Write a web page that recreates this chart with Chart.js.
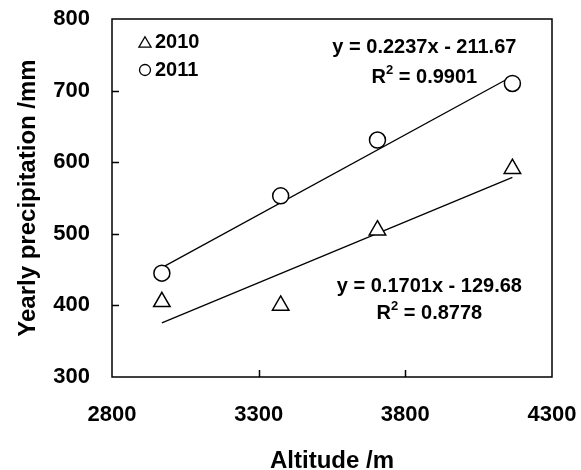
<!DOCTYPE html>
<html>
<head>
<meta charset="utf-8">
<script src="https://cdn.jsdelivr.net/npm/chart.js@4.4.0/dist/chart.umd.min.js"></script>
<style>
  html, body { margin: 0; padding: 0; background: #fff; }
  #wrap { width: 581px; height: 470px; }
</style>
</head>
<body>
<div id="wrap"><canvas id="chart"></canvas></div>
<script>
  // data
  const altitude = [2970, 3375, 3705, 4165];
  const precip2010 = [405, 400, 505, 591];
  const precip2011 = [445, 553, 631, 710];
  const years = ['2010', '2011'];

  // linear fits printed on the figure
  const fitSlope = [0.1701, 0.2237];
  const fitIntercept = [-129.68, -211.67];
  const fitR2 = ['0.8778', '0.9901'];

  const xTicks = [2800, 3300, 3800, 4300];
  const yTicks = [300, 400, 500, 600, 700, 800];

  const FONT = '"Liberation Sans", Arial, sans-serif';

  function fitLine(i) {
    const first = altitude[0], last = altitude[altitude.length - 1];
    return [first, last].map(a => ({ x: a, y: fitSlope[i] * a + fitIntercept[i] }));
  }

  function noPadding(s) {
    s.paddingTop = 0;
    s.paddingBottom = 0;
    s.paddingLeft = 0;
    s.paddingRight = 0;
  }

  // frame, inward ticks, legend and equations
  const framePlugin = {
    id: 'frame',
    afterDraw(chart) {
      const { ctx, chartArea: a, scales: { x, y } } = chart;
      ctx.save();
      ctx.strokeStyle = '#000';
      ctx.lineWidth = 1.5;
      ctx.strokeRect(a.left, a.top, a.right - a.left, a.bottom - a.top);

      ctx.beginPath();
      yTicks.slice(1, -1).forEach(v => {
        const py = Math.round(y.getPixelForValue(v)) + 0.5;
        ctx.moveTo(a.left, py);
        ctx.lineTo(a.left + 7, py);
      });
      xTicks.slice(1, -1).forEach(v => {
        const px = Math.round(x.getPixelForValue(v)) + 0.5;
        ctx.moveTo(px, a.bottom);
        ctx.lineTo(px, a.bottom - 7);
      });
      ctx.stroke();

      // legend
      const markers = [
        { style: 'triangle', r: 7, dy: 24.7 },
        { style: 'circle', r: 5.5, dy: 51 }
      ];
      ctx.font = 'bold 20px ' + FONT;
      ctx.textBaseline = 'middle';
      ctx.textAlign = 'left';
      markers.forEach((m, i) => {
        ctx.fillStyle = '#fff';
        ctx.strokeStyle = '#000';
        ctx.lineWidth = 1.3;
        Chart.helpers.drawPoint(ctx, { pointStyle: m.style, radius: m.r, borderWidth: 1.3 }, a.left + 33, a.top + m.dy);
        ctx.fillStyle = '#000';
        ctx.fillText(chart.data.datasets[i].label, a.left + 43, a.top + 23 + i * 28);
      });

      // equations
      const eqPos = [
        { x: 3882, y: 426, dy: 27 },
        { x: 3865, y: 760, dy: 30 }
      ];
      eqPos.forEach((p, i) => {
        const cx = x.getPixelForValue(p.x);
        const cy = y.getPixelForValue(p.y);
        ctx.fillStyle = '#000';
        ctx.font = 'bold 20px ' + FONT;
        ctx.textAlign = 'center';
        ctx.fillText('y = ' + fitSlope[i] + 'x - ' + Math.abs(fitIntercept[i]), cx, cy);

        const rest = ' = ' + fitR2[i];
        ctx.textAlign = 'left';
        const wR = ctx.measureText('R').width;
        const wRest = ctx.measureText(rest).width;
        ctx.font = 'bold 13px ' + FONT;
        const w2 = ctx.measureText('2').width;
        let sx = cx - (wR + w2 + wRest) / 2;
        const ry = cy + p.dy;
        ctx.font = 'bold 20px ' + FONT;
        ctx.fillText('R', sx, ry);
        ctx.font = 'bold 13px ' + FONT;
        ctx.fillText('2', sx + wR, ry - 7);
        ctx.font = 'bold 20px ' + FONT;
        ctx.fillText(rest, sx + wR + w2, ry);
      });
      ctx.restore();
    }
  };

  const tickFont = { family: FONT, size: 22, weight: 'bold' };

  new Chart(document.getElementById('chart'), {
    type: 'scatter',
    data: {
      datasets: [
        {
          label: years[0],
          data: altitude.map((a, i) => ({ x: a, y: precip2010[i] })),
          pointStyle: 'triangle',
          pointRadius: 9.5,
          pointBorderWidth: 1.5,
          borderColor: '#000',
          backgroundColor: '#fff',
          order: 0
        },
        {
          label: years[1],
          data: altitude.map((a, i) => ({ x: a, y: precip2011[i] })),
          pointStyle: 'circle',
          pointRadius: 8,
          pointBorderWidth: 1.5,
          borderColor: '#000',
          backgroundColor: '#fff',
          order: 0
        },
        {
          label: 'fit ' + years[0],
          data: fitLine(0),
          showLine: true,
          pointRadius: 0,
          borderColor: '#000',
          borderWidth: 1.3,
          order: 1
        },
        {
          label: 'fit ' + years[1],
          data: fitLine(1),
          showLine: true,
          pointRadius: 0,
          borderColor: '#000',
          borderWidth: 1.3,
          order: 1
        }
      ]
    },
    options: {
      responsive: true,
      maintainAspectRatio: false,
      animation: false,
      layout: { padding: { top: 19, right: 29, left: 0, bottom: 0 } },
      scales: {
        x: {
          type: 'linear',
          min: 2800,
          max: 4300,
          afterBuildTicks: s => { s.ticks = xTicks.map(v => ({ value: v })); },
          afterFit: s => { s.height = 93; noPadding(s); },
          grid: { display: false, drawTicks: false },
          border: { display: false },
          ticks: { font: tickFont, color: '#000', padding: 25, maxRotation: 0, callback: v => String(v) },
          title: {
            display: true,
            text: 'Altitude /m',
            color: '#000',
            font: { family: FONT, size: 24, weight: 'bold', lineHeight: 0.6 },
            padding: { top: 0, bottom: 1 }
          }
        },
        y: {
          type: 'linear',
          min: 300,
          max: 800,
          afterBuildTicks: s => { s.ticks = yTicks.map(v => ({ value: v })); },
          afterFit: s => { s.width = 112; noPadding(s); },
          grid: { display: false, drawTicks: false },
          border: { display: false },
          ticks: { font: tickFont, color: '#000', padding: 22, callback: v => String(v) },
          title: {
            display: true,
            text: 'Yearly precipitation /mm',
            color: '#000',
            font: { family: FONT, size: 24, weight: 'bold' },
            padding: { top: 14, bottom: 14 }
          }
        }
      },
      plugins: {
        legend: { display: false },
        tooltip: { enabled: false }
      }
    },
    plugins: [framePlugin]
  });
</script>
</body>
</html>
